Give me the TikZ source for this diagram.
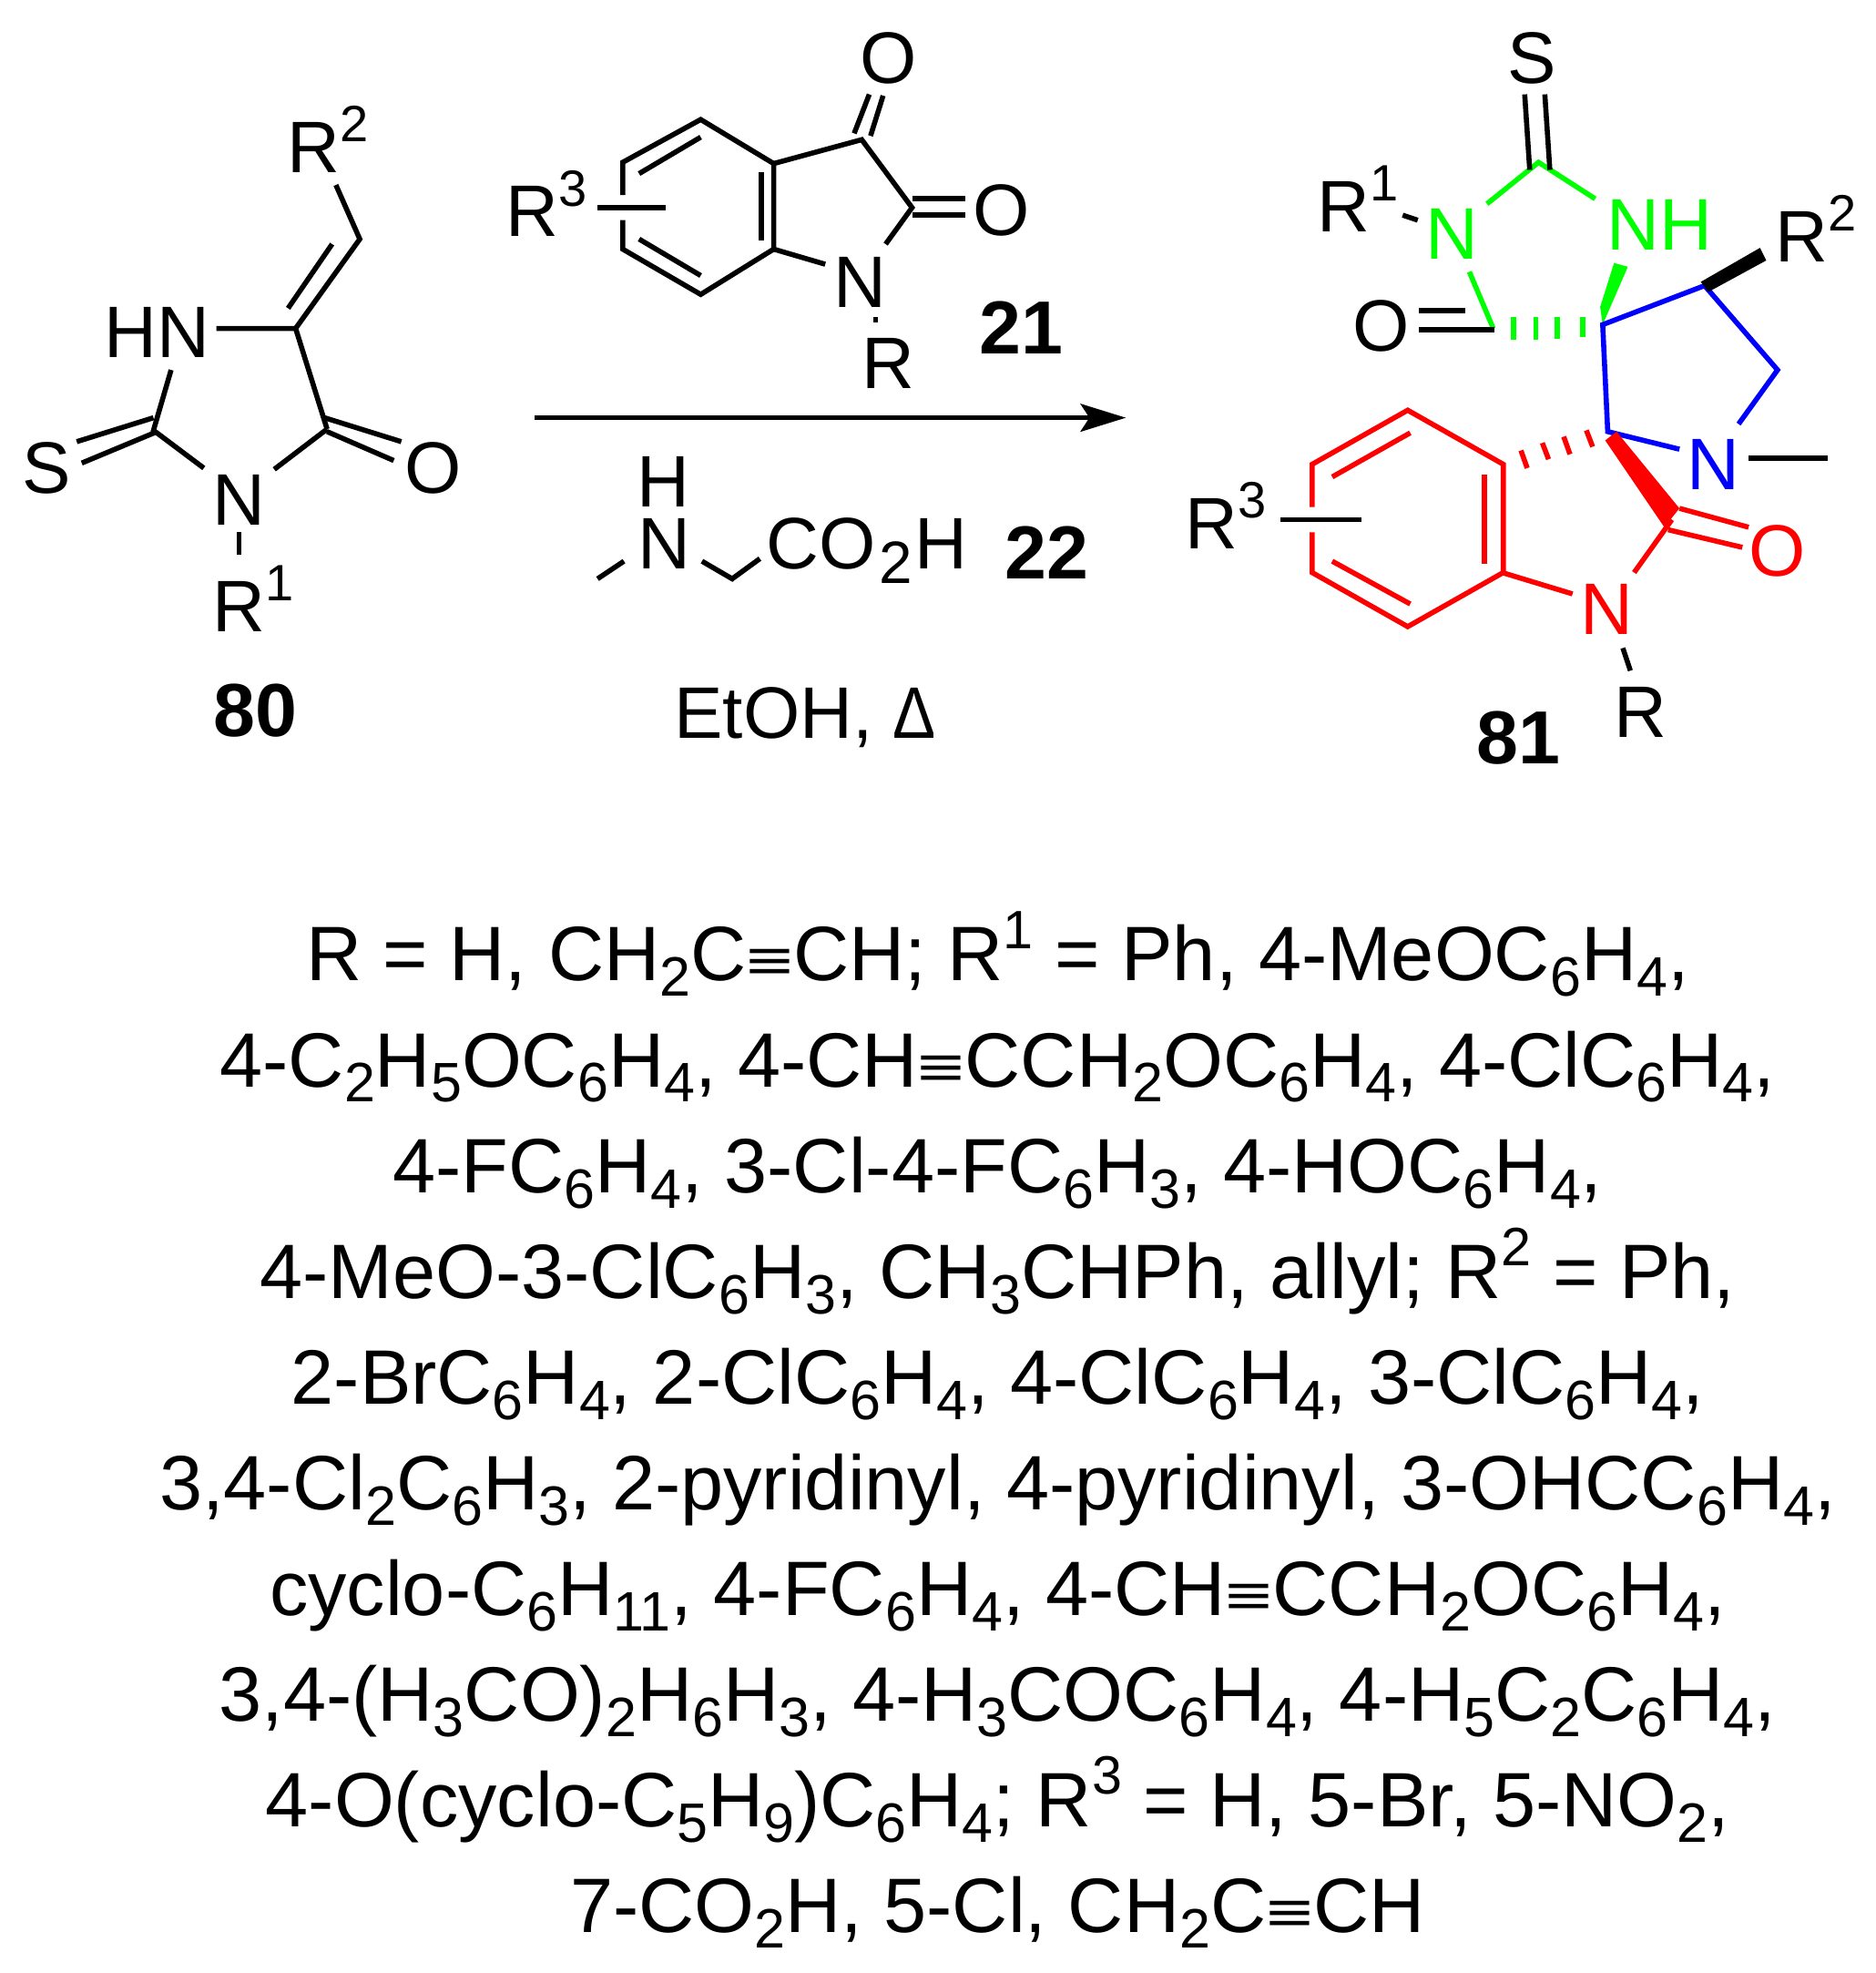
\documentclass[tikz,border=0pt]{standalone}
\usepackage{fontspec}
\setmainfont{Liberation Sans}
\usetikzlibrary{arrows.meta}
\definecolor{ringgreen}{HTML}{00FF00}
\definecolor{ringblue}{HTML}{0000FF}
\definecolor{ringred}{HTML}{FF0000}
\newcommand{\sups}[1]{\raisebox{0.42em}{\scalebox{0.7}{#1}}}
\newcommand{\subs}[1]{\raisebox{-0.2em}{\scalebox{0.72}{#1}}}
\newcommand{\tbond}{\scalebox{1.05}[0.75]{≡}}
\newcommand{\atoms}[1]{
    \foreach \n/\x/\y in {#1} {\coordinate (\n) at (\x,\y);}
}
\tikzset{
    bond/.style={line width=2.3pt},
    atomlabel/.style={inner sep=0pt, anchor=base, font=\fontsize{33}{36}\selectfont},
    leftlabel/.style={atomlabel, anchor=base west},
    numlabel/.style={atomlabel, font=\fontsize{34}{36}\bfseries\selectfont},
}

\begin{document}
\begin{tikzpicture}[x=0.02cm, y=-0.02cm]
    \useasboundingbox (0,0) rectangle (1491,1568);

    % imidazolidine 80
    \atoms{a1/235/261, a2/260/341, a3/122/342, a4/286/190, a5/267/147, a6/229/245, a7/264/194,
        a8/172/261, a9/136/294, a10/162/372, a11/218/373, a12/122/332, a13/61/351, a14/125/343,
        a15/65/368, a16/258/332, a17/319/351, a18/260/343, a19/313/366, a20/190/423, a21/190/441}
    \node[atomlabel] (hnA) at (125,284) {HN};
    \node[atomlabel] (sA) at (37,392) {S};
    \node[atomlabel] (nA) at (190,417) {N};
    \node[atomlabel] (oA) at (344,392) {O};
    \node[leftlabel] (roneA) at (169,502) {R\sups{1}};
    \node[leftlabel] (rtwoA) at (228,137) {R\sups{2}};
    \node[numlabel] (numA) at (203,585) {80};
    \draw[bond] (a8) -- (a1) -- (a2);
    \draw[bond] (a1) -- (a4) -- (a5);
    \draw[bond] (a6) -- (a7);
    \draw[bond] (a9) -- (a3) -- (a10);
    \draw[bond] (a11) -- (a2);
    \draw[bond] (a12) -- (a13);
    \draw[bond] (a14) -- (a15);
    \draw[bond] (a16) -- (a17);
    \draw[bond] (a18) -- (a19);
    \draw[bond] (a20) -- (a21);

    % isatin 21
    \atoms{b1/557/95, b2/615/130, b3/615/198, b4/557/234, b5/495/198, b6/495/129,
        b7/508/138, b8/557/109, b9/508/190, b10/557/219, b11/605/137, b12/605/191,
        b13/495/155, b14/495/175, b15/475/165, b16/529/165, b17/685/111, b18/725/165,
        b19/656/210, b20/704/194, b21/679/106, b22/691/75, b23/692/108, b24/702/76,
        b25/725/158, b26/767/158, b27/725/171, b28/767/171, b29/696/252, b30/696/256}
    \node[atomlabel] (oB) at (706,66) {O};
    \node[atomlabel] (otwoB) at (796,187) {O};
    \node[atomlabel] (nB) at (684,244) {N};
    \node[atomlabel] (rB) at (706,309) {R};
    \node[leftlabel] (rthreeB) at (402,188) {R\sups{3}};
    \node[numlabel] (numB) at (812,281) {21};
    \draw[bond] (b13) -- (b6) -- (b1) -- (b2) -- (b3) -- (b4) -- (b5) -- (b14);
    \draw[bond] (b7) -- (b8);
    \draw[bond] (b9) -- (b10);
    \draw[bond] (b11) -- (b12);
    \draw[bond] (b15) -- (b16);
    \draw[bond] (b2) -- (b17) -- (b18) -- (b20);
    \draw[bond] (b3) -- (b19);
    \draw[bond] (b21) -- (b22);
    \draw[bond] (b23) -- (b24);
    \draw[bond] (b25) -- (b26);
    \draw[bond] (b27) -- (b28);
    \draw[bond] (b29) -- (b30);

    % arrow and conditions
    \atoms{c1/425/332, c2/895/332, c3/475/460, c4/496/446, c5/558/446, c6/582/460, c7/604/444}
    \draw[bond, -{Stealth[length=0.72cm, width=0.44cm, inset=0.14cm]}] (c1) -- (c2);
    \node[atomlabel] (hC) at (527,403) {H};
    \node[atomlabel] (nC) at (528,452) {N};
    \node[leftlabel] (acidC) at (609,452) {CO\hspace{0.04em}\raisebox{-0.2em}{\scalebox{0.82}{2}}\hspace{0.03em}H};
    \node[numlabel] (numC) at (832,460) {22};
    \node[atomlabel] (solvC) at (640,587) {EtOH, \scalebox{0.88}[1]{Δ}};
    \draw[bond] (c3) -- (c4);
    \draw[bond] (c5) -- (c6) -- (c7);

    % spiro product 81
    \atoms{d1/1223/129, d2/1212/75, d3/1216/135, d4/1228/75, d5/1232/135, d6/1182/162, d7/1268/158,
        d8/1115/171, d9/1127/175, d10/1168/216, d11/1187/261, d12/1128/247, d13/1165/247,
        d14/1128/262, d15/1188/262, d16/1274/258, d17/1272/244, d18/1283/209, d19/1294/212,
        d20/1355/227, d21/1413/294, d22/1382/337, d23/1278/343, d24/1335/357, d25/1390/364,
        d26/1453/364, d27/1358/232, d28/1404/207, d29/1399/197, d30/1352/224,
        d32/1335/404, d33/1323/419, d34/1276/350, d35/1285/343,
        d37/1390/419, d38/1326/421, d39/1385/435, d40/1329/413, d41/1299/455, d42/1194/455,
        d43/1250/472, d44/1290/515, d45/1296/533}
    \atoms{e1/1119/326, e2/1195/369, e3/1195/455, e4/1119/498, e5/1043/455, e6/1043/369,
        e7/1043/403, e8/1043/423, e9/1059/379, e10/1121/344, e11/1059/446, e12/1121/480,
        e13/1180/377, e14/1180/448, e15/1018/413, e16/1082/413}
    \node[atomlabel] (sD) at (1218,66) {S};
    \node[leftlabel] (roneD) at (1047,184) {R\sups{1}};
    \node[atomlabel, text=ringgreen] (nD) at (1154,206) {N};
    \node[atomlabel, text=ringgreen] (nhD) at (1319,199) {NH};
    \node[leftlabel] (rtwoD) at (1411,208) {R\sups{2}};
    \node[atomlabel] (oD) at (1098,279) {O};
    \node[atomlabel, text=ringblue] (nblueD) at (1362,389) {N};
    \node[atomlabel, text=ringred] (oredD) at (1413,458) {O};
    \node[atomlabel, text=ringred] (nredD) at (1277,504) {N};
    \node[atomlabel] (rD) at (1304,586) {R};
    \node[leftlabel] (rthreeD) at (942,436) {R\sups{3}};
    \node[numlabel] (numD) at (1207,607) {81};
    \draw[bond, ringgreen] (d6) -- (d1) -- (d7);
    \draw[bond, ringgreen] (d10) -- (d11);
    \fill[ringgreen] (d16) -- (d17) -- (d18) -- (d19) -- cycle;
    \foreach \x/\ya/\yb in {1203/252/270, 1221/252/270, 1238/252/269, 1258/252/268}
        \draw[bond, ringgreen] (\x,\ya) -- (\x,\yb);
    \draw[bond] (d2) -- (d3);
    \draw[bond] (d4) -- (d5);
    \draw[bond] (d8) -- (d9);
    \draw[bond] (d12) -- (d13);
    \draw[bond] (d14) -- (d15);
    \draw[bond, ringblue] (d24) -- (d23) -- (d16) -- (d20) -- (d21) -- (d22);
    \draw[bond] (d25) -- (d26);
    \fill (d27) -- (d28) -- (d29) -- (d30) -- cycle;
    \fill[ringred] (d34) -- (d33) -- (d32) -- (d35) -- cycle;
    \draw[bond, ringred] (d32) -- (d37);
    \draw[bond, ringred] (d38) -- (d39);
    \draw[bond, ringred] (d40) -- (d41);
    \draw[bond, ringred] (d42) -- (d43);
    \draw[bond] (d44) -- (d45);
    \draw[bond, ringred] (e7) -- (e6) -- (e1) -- (e2) -- (e3) -- (e4) -- (e5) -- (e8);
    \draw[bond, ringred] (e9) -- (e10);
    \draw[bond, ringred] (e11) -- (e12);
    \draw[bond, ringred] (e13) -- (e14);
    \draw[bond] (e15) -- (e16);
    \foreach \xa/\ya/\xb/\yb in {1261/342/1266/355, 1243/347/1248/361, 1226/352/1231/365, 1209/358/1214/372}
        \draw[bond, ringred] (\xa,\ya) -- (\xb,\yb);

    % substituent list
    \node[inner sep=0pt, anchor=north, align=center, font=\fontsize{34.9}{47.82}\selectfont] (subst) at (793,724) {
        R = H, CH\subs{2}C\tbond CH; R\sups{1} = Ph, 4-MeOC\subs{6}H\subs{4},\\
        4-C\subs{2}H\subs{5}OC\subs{6}H\subs{4}, 4-CH\tbond CCH\subs{2}OC\subs{6}H\subs{4}, 4-ClC\subs{6}H\subs{4},\\
        4-FC\subs{6}H\subs{4}, 3-Cl-4-FC\subs{6}H\subs{3}, 4-HOC\subs{6}H\subs{4},\\
        4-MeO-3-ClC\subs{6}H\subs{3}, CH\subs{3}CHPh, allyl; R\sups{2} = Ph,\\
        2-BrC\subs{6}H\subs{4}, 2-ClC\subs{6}H\subs{4}, 4-ClC\subs{6}H\subs{4}, 3-ClC\subs{6}H\subs{4},\\
        3,4-Cl\subs{2}C\subs{6}H\subs{3}, 2-pyridinyl, 4-pyridinyl, 3-OHCC\subs{6}H\subs{4},\\
        cyclo-C\subs{6}H\subs{11}, 4-FC\subs{6}H\subs{4}, 4-CH\tbond CCH\subs{2}OC\subs{6}H\subs{4},\\
        3,4-(H\subs{3}CO)\subs{2}H\subs{6}H\subs{3}, 4-H\subs{3}COC\subs{6}H\subs{4}, 4-H\subs{5}C\subs{2}C\subs{6}H\subs{4},\\
        4-O(cyclo-C\subs{5}H\subs{9})C\subs{6}H\subs{4}; R\sups{3} = H, 5-Br, 5-NO\subs{2},\\
        7-CO\subs{2}H, 5-Cl, CH\subs{2}C\tbond CH
    };
\end{tikzpicture}
\end{document}
